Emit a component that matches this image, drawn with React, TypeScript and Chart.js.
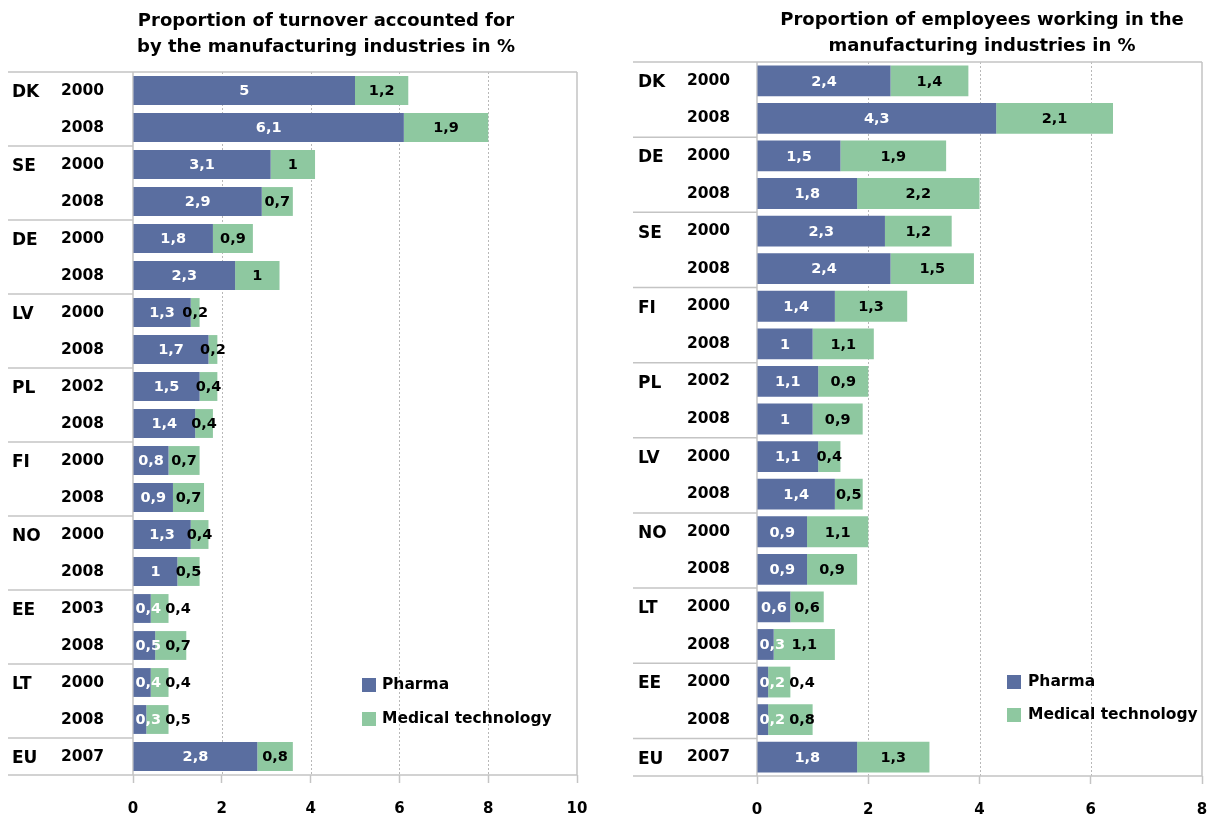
import React, { useEffect, useRef } from "react";
import { Chart, registerables } from "chart.js";

Chart.register(...registerables);

// ---------- DATA ----------
const leftTitle = ["Proportion of turnover accounted for", "by the manufacturing industries in %"];
const leftCountries = ["DK", "DK", "SE", "SE", "DE", "DE", "LV", "LV", "PL", "PL", "FI", "FI", "NO", "NO", "EE", "EE", "LT", "LT", "EU"];
const leftYears = ["2000", "2008", "2000", "2008", "2000", "2008", "2000", "2008", "2002", "2008", "2000", "2008", "2000", "2008", "2003", "2008", "2000", "2008", "2007"];
const leftPharma = [5, 6.1, 3.1, 2.9, 1.8, 2.3, 1.3, 1.7, 1.5, 1.4, 0.8, 0.9, 1.3, 1, 0.4, 0.5, 0.4, 0.3, 2.8];
const leftMedtech = [1.2, 1.9, 1, 0.7, 0.9, 1, 0.2, 0.2, 0.4, 0.4, 0.7, 0.7, 0.4, 0.5, 0.4, 0.7, 0.4, 0.5, 0.8];
const leftMax = 10;

const rightTitle = ["Proportion of employees working in the", "manufacturing industries in %"];
const rightCountries = ["DK", "DK", "DE", "DE", "SE", "SE", "FI", "FI", "PL", "PL", "LV", "LV", "NO", "NO", "LT", "LT", "EE", "EE", "EU"];
const rightYears = ["2000", "2008", "2000", "2008", "2000", "2008", "2000", "2008", "2002", "2008", "2000", "2008", "2000", "2008", "2000", "2008", "2000", "2008", "2007"];
const rightPharma = [2.4, 4.3, 1.5, 1.8, 2.3, 2.4, 1.4, 1, 1.1, 1, 1.1, 1.4, 0.9, 0.9, 0.6, 0.3, 0.2, 0.2, 1.8];
const rightMedtech = [1.4, 2.1, 1.9, 2.2, 1.2, 1.5, 1.3, 1.1, 0.9, 0.9, 0.4, 0.5, 1.1, 0.9, 0.6, 1.1, 0.4, 0.8, 1.3];
const rightMax = 8;

const seriesNames = ["Pharma", "Medical technology"];
const xStep = 2;

// ---------- STYLE ----------
const FONT = "'DejaVu Sans', sans-serif";
const PHARMA_COLOR = "#5a6ea0";
const MED_COLOR = "#8ec8a0";
const LINE_COLOR = "#c4c4c4";

type Layout = {
  canvasW: number;
  canvasH: number;
  top: number;
  bottom: number;
  left: number;
  right: number;
  labelLeft: number;
  countryX: number;
  yearX: number;
  titleX: number;
  titleY: number[];
  legendBoxX: number;
  legendTextX: number;
  legendY: number[];
  barPct: number;
};

const fmt = (v: number) => String(v).replace(".", ",");

function makeConfig(
  countries: string[],
  years: string[],
  pharma: number[],
  medtech: number[],
  max: number,
  title: string[],
  L: Layout
): any {
  const labels = countries.map((c, i) => c + " " + years[i]);

  const drawPlugin = {
    id: "customDraw",
    beforeDatasetsDraw(chart: any) {
      const ctx = chart.ctx;
      const xs = chart.scales.x;
      const ys = chart.scales.y;
      const a = chart.chartArea;
      ctx.save();
      // dotted gridlines
      ctx.strokeStyle = "#b8b8b8";
      ctx.lineWidth = 1;
      ctx.setLineDash([2, 2]);
      xs.ticks.forEach((t: any) => {
        if (t.value <= 0 || t.value >= max) return;
        const px = Math.round(xs.getPixelForValue(t.value)) + 0.5;
        ctx.beginPath();
        ctx.moveTo(px, a.top);
        ctx.lineTo(px, a.bottom);
        ctx.stroke();
      });
      ctx.setLineDash([]);
      ctx.strokeStyle = LINE_COLOR;
      ctx.lineWidth = 1.5;
      // top & bottom lines
      ctx.beginPath();
      ctx.moveTo(L.labelLeft, a.top);
      ctx.lineTo(a.right, a.top);
      ctx.moveTo(L.labelLeft, a.bottom);
      ctx.lineTo(a.right, a.bottom);
      // right border
      ctx.moveTo(a.right, a.top);
      ctx.lineTo(a.right, a.bottom);
      // left axis
      ctx.moveTo(a.left, a.top);
      ctx.lineTo(a.left, a.bottom);
      ctx.stroke();
      // group separators
      for (let i = 1; i < countries.length; i++) {
        if (countries[i] !== countries[i - 1]) {
          const y = (ys.getPixelForValue(i - 1) + ys.getPixelForValue(i)) / 2;
          ctx.beginPath();
          ctx.moveTo(L.labelLeft, y);
          ctx.lineTo(a.left, y);
          ctx.stroke();
        }
      }
      ctx.restore();
    },
    afterDatasetsDraw(chart: any) {
      const ctx = chart.ctx;
      const ys = chart.scales.y;
      ctx.save();
      // data labels
      ctx.font = "bold 14.5px " + FONT;
      ctx.textBaseline = "middle";
      ctx.textAlign = "center";
      const m0 = chart.getDatasetMeta(0);
      const m1 = chart.getDatasetMeta(1);
      for (let i = 0; i < pharma.length; i++) {
        const e0 = m0.data[i].getProps(["x", "y", "base"], true);
        const e1 = m1.data[i].getProps(["x", "y", "base"], true);
        const t0 = fmt(pharma[i]);
        const w0 = ctx.measureText(t0).width;
        let c0 = (e0.x + e0.base) / 2;
        c0 = Math.max(c0, e0.base + w0 / 2 + 2);
        ctx.fillStyle = "#ffffff";
        ctx.fillText(t0, c0, e0.y + 1);
        const r0 = c0 + w0 / 2;
        const t1 = fmt(medtech[i]);
        const w1 = ctx.measureText(t1).width;
        let c1 = (e1.x + e1.base) / 2;
        c1 = Math.max(c1, r0 + 4 + w1 / 2);
        ctx.fillStyle = "#000000";
        ctx.fillText(t1, c1, e1.y + 1);
      }
      // y labels
      ctx.textAlign = "left";
      ctx.fillStyle = "#000000";
      for (let i = 0; i < countries.length; i++) {
        const y = ys.getPixelForValue(i);
        if (i === 0 || countries[i] !== countries[i - 1]) {
          ctx.font = "bold 17px " + FONT;
          ctx.fillText(countries[i], L.countryX, y + 2);
        }
        ctx.font = "bold 15.5px " + FONT;
        ctx.fillText(years[i], L.yearX, y);
      }
      // title
      ctx.textAlign = "center";
      ctx.font = "bold 18px " + FONT;
      title.forEach((t, k) => ctx.fillText(t, L.titleX, L.titleY[k]));
      // legend
      const colors = [PHARMA_COLOR, MED_COLOR];
      ctx.textAlign = "left";
      ctx.font = "bold 15.5px " + FONT;
      seriesNames.forEach((n, k) => {
        const cy = L.legendY[k];
        ctx.fillStyle = colors[k];
        ctx.fillRect(L.legendBoxX, cy - 7, 14, 14);
        ctx.fillStyle = "#000000";
        ctx.fillText(n, L.legendTextX, cy);
      });
      ctx.restore();
    },
  };

  return {
    type: "bar",
    data: {
      labels,
      datasets: [
        {
          label: seriesNames[0],
          data: pharma,
          backgroundColor: PHARMA_COLOR,
          borderWidth: 0,
          categoryPercentage: 1,
          barPercentage: L.barPct,
        },
        {
          label: seriesNames[1],
          data: medtech,
          backgroundColor: MED_COLOR,
          borderWidth: 0,
          categoryPercentage: 1,
          barPercentage: L.barPct,
        },
      ],
    },
    options: {
      indexAxis: "y",
      responsive: false,
      animation: false,
      devicePixelRatio: 1,
      layout: { padding: { top: L.top, left: 0, right: L.canvasW - L.right, bottom: 0 } },
      plugins: { legend: { display: false }, title: { display: false }, tooltip: { enabled: false } },
      scales: {
        x: {
          type: "linear",
          stacked: true,
          min: 0,
          max,
          position: "bottom",
          ticks: { stepSize: xStep, color: "#000", font: { family: FONT, size: 15, weight: "bold" }, padding: 17 },
          grid: { drawOnChartArea: false, drawTicks: true, tickLength: 8, tickColor: LINE_COLOR, tickWidth: 1.5 },
          border: { display: false },
          afterFit(scale: any) {
            scale.height = L.canvasH - L.bottom;
            scale.paddingLeft = 0;
            scale.paddingRight = 0;
          },
        },
        y: {
          type: "category",
          stacked: true,
          ticks: { display: false },
          grid: { display: false },
          border: { display: false },
          afterFit(scale: any) {
            scale.width = L.left;
            scale.paddingTop = 0;
            scale.paddingBottom = 0;
          },
        },
      },
    },
    plugins: [drawPlugin],
  };
}

const leftLayout: Layout = {
  canvasW: 610,
  canvasH: 818,
  top: 72,
  bottom: 775,
  left: 133,
  right: 577,
  labelLeft: 8,
  countryX: 12,
  yearX: 61,
  titleX: 326,
  titleY: [21, 47],
  legendBoxX: 362,
  legendTextX: 382,
  legendY: [685, 719],
  barPct: 0.78,
};

const rightLayout: Layout = {
  canvasW: 610,
  canvasH: 818,
  top: 62,
  bottom: 776,
  left: 147,
  right: 592,
  labelLeft: 23,
  countryX: 28,
  yearX: 77,
  titleX: 372,
  titleY: [20, 46],
  legendBoxX: 397,
  legendTextX: 418,
  legendY: [682, 715],
  barPct: 0.82,
};

function ChartCanvas(props: { cfg: () => any; w: number; h: number; x: number }) {
  const ref = useRef<HTMLCanvasElement | null>(null);
  useEffect(() => {
    if (!ref.current) return;
    const chart = new Chart(ref.current, props.cfg());
    return () => chart.destroy();
  }, []);
  return (
    <canvas
      ref={ref}
      width={props.w}
      height={props.h}
      style={{ position: "absolute", left: props.x, top: 0, width: props.w, height: props.h }}
    />
  );
}

export default function App() {
  return (
    <div style={{ position: "fixed", left: 0, top: 0, width: 1220, height: 818, background: "#fff" }}>
      <ChartCanvas
        x={0}
        w={610}
        h={818}
        cfg={() => makeConfig(leftCountries, leftYears, leftPharma, leftMedtech, leftMax, leftTitle, leftLayout)}
      />
      <ChartCanvas
        x={610}
        w={610}
        h={818}
        cfg={() => makeConfig(rightCountries, rightYears, rightPharma, rightMedtech, rightMax, rightTitle, rightLayout)}
      />
    </div>
  );
}
